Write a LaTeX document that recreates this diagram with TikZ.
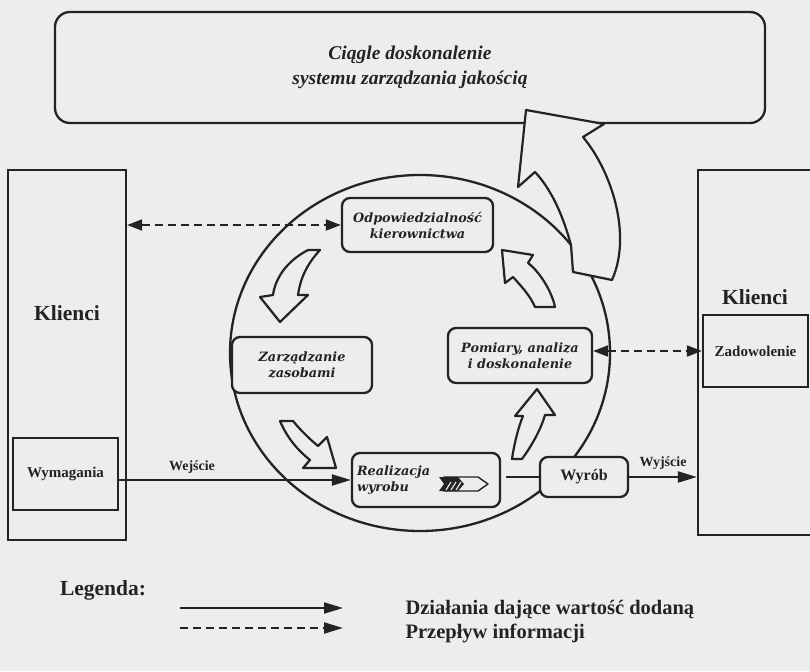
\documentclass[tikz,border=0pt]{standalone}
\usepackage{fontspec}
\setmainfont{Liberation Serif}
\newfontfamily\stagefont{DejaVu Serif}
\usetikzlibrary{arrows.meta}
\definecolor{ink}{RGB}{35,35,35}
\definecolor{paper}{RGB}{237,237,237}
\begin{document}
\begin{tikzpicture}[x=1pt,y=-1pt,
  outerbox/.style={draw=ink,line width=2.3pt,fill=paper,inner sep=0pt},
  stagebox/.style={draw=ink,line width=2.3pt,fill=paper,rounded corners=8pt,
    inner sep=0pt,align=center,text=ink,
    font=\stagefont\bfseries\itshape\fontsize{12.8}{16}\selectfont},
  hollow/.style={draw=ink,line width=2.2pt,fill=paper,line join=round},
  flow/.style={draw=ink,line width=2pt,-{Triangle[length=19pt,width=11pt]}},
  info/.style={draw=ink,line width=2pt,dash pattern=on 8pt off 5pt,
    {Triangle[length=15pt,width=11pt]}-{Triangle[length=15pt,width=11pt]}},
  tag/.style={text=ink,font=\bfseries\fontsize{15}{18}\selectfont},
  bigtag/.style={text=ink,font=\bfseries\fontsize{21.5}{24}\selectfont}]

% page
\fill[paper] (0,0) rectangle (810,671);
\useasboundingbox (0,0) rectangle (810,671);
\clip (0,0) rectangle (810,671);

% continual improvement banner
\node[draw=ink,line width=2.3pt,fill=paper,rounded corners=15pt,
  minimum width=710pt,minimum height=111pt,align=center,text=ink,
  font=\bfseries\itshape\fontsize{19.5}{25}\selectfont]
  (top) at (410,67.5) {Ciągle doskonalenie\\systemu zarządzania jakością};

% process loop
\draw[ink,line width=2.3pt] (420,353) ellipse [x radius=190, y radius=178];

% large arrow leaving the loop towards the banner
\draw[hollow] (526,110) -- (604,124) -- (583,137)
  .. controls (612,172) and (632,235) .. (612,280) -- (573,272) -- (571,245)
  .. controls (562,212) and (550,188) .. (535,172) -- (518,187) -- cycle;

% customers, left
\node[outerbox,minimum width=118pt,minimum height=370pt] (kl) at (67,355) {};
\node[bigtag] (klt) at (67,313) {Klienci};
\node[outerbox,minimum width=105pt,minimum height=72pt,tag] (wym) at (65.5,474) {Wymagania};

% customers, right
\node[outerbox,minimum width=152pt,minimum height=365pt] (kr) at (774,352.5) {};
\node[bigtag] (krt) at (755,297) {Klienci};
\node[outerbox,minimum width=105pt,minimum height=72pt,tag] (zad) at (755.5,351) {Zadowolenie};

% stages of the loop
\node[stagebox,minimum width=151pt,minimum height=54pt] (odp) at (417.5,225)
  {Odpowiedzialność\\kierownictwa};
\node[stagebox,minimum width=140pt,minimum height=56pt] (zarz) at (302,365)
  {Zarządzanie\\zasobami};
\node[stagebox,minimum width=144pt,minimum height=55pt] (pom) at (520,355.5)
  {Pomiary, analiza\\i doskonalenie};
\node[stagebox,minimum height=54pt,text width=138pt,align=left,inner xsep=5pt]
  (real) at (426,480) {Realizacja\\wyrobu};
\node[outerbox,rounded corners=8pt,minimum width=88pt,minimum height=40pt,tag,
  font=\bfseries\fontsize{16}{18}\selectfont] (wyrob) at (584,477) {Wyrób};

% product icon
\draw[ink,line width=1.4pt,fill=paper,line join=round]
  (444,477) -- (478,477) -- (488,484) -- (478,491) -- (444,491) -- (449,484) -- cycle;
\fill[ink] (439,477) -- (458,477) -- (464,484) -- (458,491) -- (439,491) -- (444,484) -- cycle;
\draw[paper,line width=1.1pt] (446,490) -- (451,482) (451,490) -- (456,482) (456,490) -- (461,482);

% hollow arrows between stages
\draw[hollow] (308,250) -- (320,250) .. controls (306,265) and (300,280) .. (298,295)
  -- (308,295) -- (280,322) -- (260,297) -- (273,295)
  .. controls (275,280) and (285,262) .. (308,250) -- cycle;
\draw[hollow] (280,421) -- (293,421) .. controls (302,432) and (312,441) .. (318,446)
  -- (327,437) -- (336,468) -- (303,468) -- (310,460)
  .. controls (300,452) and (288,440) .. (280,421) -- cycle;
\draw[hollow] (512,459) .. controls (514,445) and (518,428) .. (523,416)
  -- (515,416) -- (537,389) -- (555,415) -- (545,415)
  .. controls (540,432) and (530,448) .. (522,459) -- cycle;
\draw[hollow] (535,307) -- (555,307) .. controls (552,292) and (540,272) .. (528,263)
  -- (533,255) -- (502,250) -- (505,283) -- (513,277)
  .. controls (520,285) and (530,295) .. (535,307) -- cycle;

% information flows
\draw[info] (odp.west -| kl.east) -- (odp.west);
\draw[info] (zad.west -| pom.east) -- (zad.west);

% value-adding flows
\draw[flow] (real.west -| wym.east) -- (real.west);
\node[tag,font=\bfseries\fontsize{14}{16}\selectfont] (wej) at (192,467) {Wejście};
\draw[draw=ink,line width=2pt,shorten <=5pt] (wyrob.west -| real.east) -- (wyrob.west);
\draw[flow] (wyrob.east) -- (wyrob.east -| kr.west);
\node[tag,font=\bfseries\fontsize{14}{16}\selectfont] (wyj) at (663,463) {Wyjście};

% legend
\node[bigtag] (leg) at (103,590) {Legenda:};
\coordinate (l1a) at (180,608);
\coordinate (l1b) at (343,608);
\coordinate (l2a) at (180,628);
\coordinate (l2b) at (343,628);
\draw[flow] (l1a) -- (l1b);
\draw[draw=ink,line width=2pt,dash pattern=on 8pt off 5pt,
  -{Triangle[length=19pt,width=11pt]}] (l2a) -- (l2b);
\node[bigtag,anchor=west,font=\bfseries\fontsize{20.5}{24}\selectfont] (lt1) at (402,610)
  {Działania dające wartość dodaną};
\node[bigtag,anchor=west,font=\bfseries\fontsize{20.5}{24}\selectfont] (lt2) at (402,633)
  {Przepływ informacji};
\end{tikzpicture}
\end{document}
